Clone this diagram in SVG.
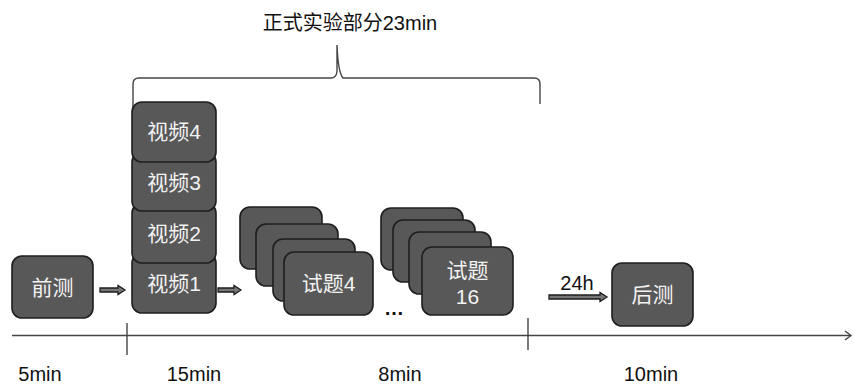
<svg xmlns="http://www.w3.org/2000/svg" width="854" height="385" viewBox="0 0 854 385">
<defs>
<style>
.box{fill:#585858;stroke:#1e1e1e;stroke-width:1.6}
.bt{font-family:"Liberation Sans","Noto Sans CJK SC",sans-serif;font-size:21px;fill:#f2f2f2;text-anchor:middle}
.lbl{font-family:"Liberation Sans","Noto Sans CJK SC",sans-serif;font-size:20px;fill:#111;text-anchor:middle}
.ln{stroke:#444;stroke-width:1.4;fill:none}
.arr{fill:#777;stroke:#1e1e1e;stroke-width:1.3;stroke-linejoin:miter}
</style>
</defs>
<rect width="854" height="385" fill="#fff"/>

<text class="lbl" x="350" y="30" font-size="22">正式实验部分23min</text>

<g id="connectors">
<path class="ln" d="M133,108 V84 Q133,78 139,78 H331 Q336,78 337,72 V45 Q338,72 343,78 H534 Q540,78 540,84 V104"/>
<line class="ln" x1="12" y1="335.5" x2="850" y2="335.5"/>
<path class="ln" d="M845,331 L851,335.5 L845,340"/>
<line class="ln" x1="127" y1="323" x2="127" y2="355" stroke-width="1.6"/>
<line class="ln" x1="528" y1="318" x2="528" y2="350" stroke-width="1.6"/>
<polygon class="arr" points="100,288 118,288 118,285.5 125,290 118,294.5 118,292 100,292"/>
<polygon class="arr" points="218,288 234,288 234,285.5 241,290 234,294.5 234,292 218,292"/>
<polygon class="arr" points="549,295 600,295 600,292.5 607,297 600,301.5 600,299 549,299"/>
</g>

<g id="pretest">
<rect class="box" x="12" y="256" width="81" height="62" rx="10"/>
<text class="bt" x="52.5" y="295">前测</text>
</g>

<g id="video1">
<rect class="box" x="132" y="253" width="84" height="60" rx="10"/>
<text class="bt" x="174" y="291">视频1</text>
</g>
<g id="video2">
<rect class="box" x="132" y="203" width="84" height="60" rx="10"/>
<text class="bt" x="174" y="241">视频2</text>
</g>
<g id="video3">
<rect class="box" x="132" y="152" width="84" height="59" rx="10"/>
<text class="bt" x="174" y="190">视频3</text>
</g>
<g id="video4">
<rect class="box" x="132" y="102" width="84" height="60" rx="10"/>
<text class="bt" x="174" y="139">视频4</text>
</g>

<g id="quiz-stack1">
<rect class="box" x="240" y="207" width="82" height="62" rx="10"/>
<rect class="box" x="256" y="224" width="82" height="62" rx="10"/>
<rect class="box" x="273" y="239" width="82" height="62" rx="10"/>
<rect class="box" x="284" y="252" width="89" height="63" rx="10"/>
<text class="bt" x="328.5" y="291">试题4</text>
</g>

<text class="lbl" x="394" y="315" font-size="19" font-weight="bold">…</text>

<g id="quiz-stack2">
<rect class="box" x="381" y="208" width="82" height="62" rx="10"/>
<rect class="box" x="393" y="220" width="82" height="62" rx="10"/>
<rect class="box" x="409" y="232" width="82" height="62" rx="10"/>
<rect class="box" x="422" y="247" width="91" height="68" rx="10"/>
<text class="bt" x="467.5" y="278">试题</text>
<text class="bt" x="467.5" y="304">16</text>
</g>

<text class="lbl" x="577" y="290">24h</text>

<g id="posttest">
<rect class="box" x="612" y="263" width="81" height="63" rx="10"/>
<text class="bt" x="652.5" y="302">后测</text>
</g>

<text class="lbl" x="40" y="381">5min</text>
<text class="lbl" x="194" y="381">15min</text>
<text class="lbl" x="400" y="381">8min</text>
<text class="lbl" x="651" y="381">10min</text>
</svg>
